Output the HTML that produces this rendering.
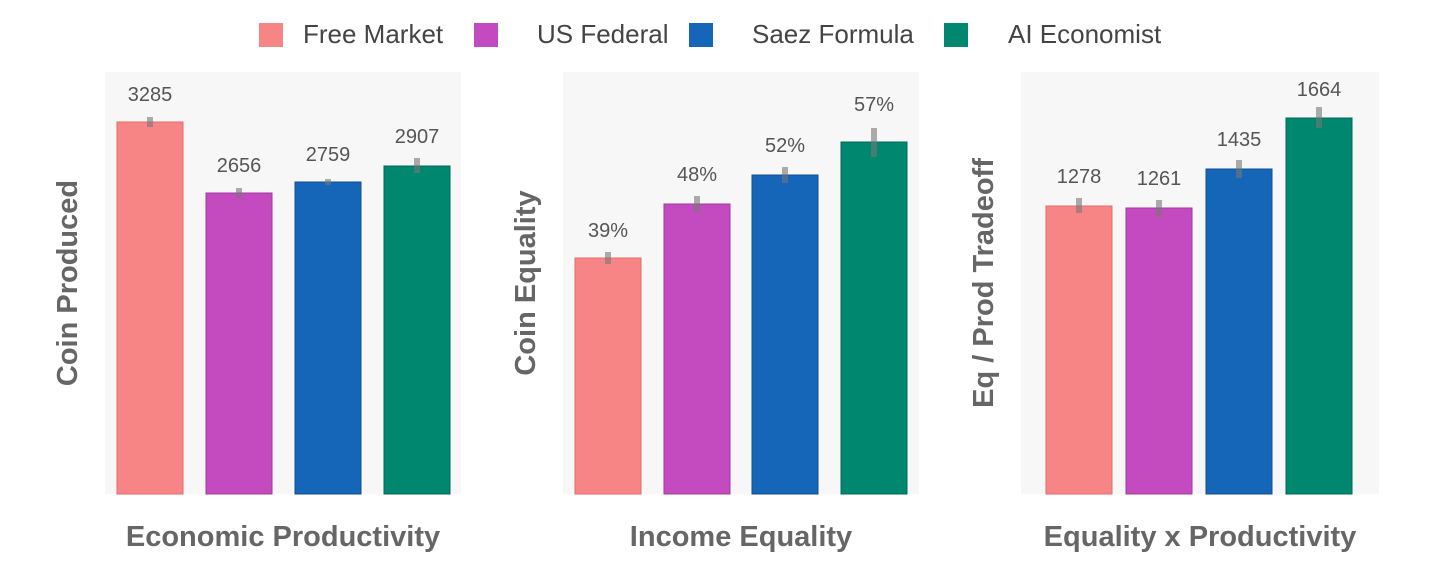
<!DOCTYPE html>
<html><head><style>
body{margin:0;background:#fff;width:1456px;height:561px;overflow:hidden;font-family:"Liberation Sans",sans-serif}
svg text{font-family:"Liberation Sans",sans-serif}
</style></head><body>
<svg width="1456" height="561" xmlns="http://www.w3.org/2000/svg">
<g font-size="26" fill="#444">
<rect x="259" y="23" width="24" height="24" fill="#F88585"/><text x="303" y="43">Free Market</text>
<rect x="474" y="23" width="24" height="24" fill="#C34BBF"/><text x="537" y="43">US Federal</text>
<rect x="689" y="23" width="24" height="24" fill="#1565B8"/><text x="752" y="43">Saez Formula</text>
<rect x="944" y="23" width="24" height="24" fill="#00876F"/><text x="1008" y="43">AI Economist</text>
</g>
<rect x="105" y="72" width="356" height="422" fill="#f7f7f7"/>
<rect x="563" y="72" width="356" height="422" fill="#f7f7f7"/>
<rect x="1021" y="72" width="358" height="422" fill="#f7f7f7"/>
<g stroke-width="1">
<rect x="117" y="122" width="66" height="372" fill="#F88585" stroke="#e06c6c"/>
<rect x="206" y="193" width="66" height="301" fill="#C34BBF" stroke="#a03a9c"/>
<rect x="295" y="182" width="66" height="312" fill="#1565B8" stroke="#0f4f90"/>
<rect x="384" y="166" width="66" height="328" fill="#00876F" stroke="#006a57"/>
<rect x="575" y="258" width="66" height="236" fill="#F88585" stroke="#e06c6c"/>
<rect x="664" y="204" width="66" height="290" fill="#C34BBF" stroke="#a03a9c"/>
<rect x="752" y="175" width="66" height="319" fill="#1565B8" stroke="#0f4f90"/>
<rect x="841" y="142" width="66" height="352" fill="#00876F" stroke="#006a57"/>
<rect x="1046" y="206" width="66" height="288" fill="#F88585" stroke="#e06c6c"/>
<rect x="1126" y="208" width="66" height="286" fill="#C34BBF" stroke="#a03a9c"/>
<rect x="1206" y="169" width="66" height="325" fill="#1565B8" stroke="#0f4f90"/>
<rect x="1286" y="118" width="66" height="376" fill="#00876F" stroke="#006a57"/>
</g>
<g stroke="#777" stroke-opacity="0.6" stroke-width="6">
<line x1="150" y1="117" x2="150" y2="127"/><line x1="239" y1="188" x2="239" y2="198"/>
<line x1="328" y1="179" x2="328" y2="185"/><line x1="417" y1="158" x2="417" y2="173"/>
<line x1="608" y1="252" x2="608" y2="264"/><line x1="697" y1="196" x2="697" y2="212"/>
<line x1="785" y1="167" x2="785" y2="183"/><line x1="874" y1="128" x2="874" y2="157"/>
<line x1="1079" y1="198" x2="1079" y2="213"/><line x1="1159" y1="200" x2="1159" y2="217"/>
<line x1="1239" y1="160" x2="1239" y2="178"/><line x1="1319" y1="107" x2="1319" y2="128"/>
</g>
<g font-size="20" fill="#555" text-anchor="middle">
<text x="150" y="101">3285</text><text x="239" y="172">2656</text><text x="328" y="161">2759</text><text x="417" y="143">2907</text>
<text x="608" y="237">39%</text><text x="697" y="181">48%</text><text x="785" y="152">52%</text><text x="874" y="111">57%</text>
<text x="1079" y="183">1278</text><text x="1159" y="185">1261</text><text x="1239" y="146">1435</text><text x="1319" y="96">1664</text>
</g>
<g font-size="29" font-weight="bold" fill="#666" text-anchor="middle">
<text x="283" y="546">Economic Productivity</text>
<text x="741" y="546">Income Equality</text>
<text x="1200" y="546">Equality x Productivity</text>
<text transform="translate(77,283) rotate(-90)">Coin Produced</text>
<text transform="translate(535,283) rotate(-90)">Coin Equality</text>
<text transform="translate(993,283) rotate(-90)">Eq / Prod Tradeoff</text>
</g>
</svg>
</body></html>
